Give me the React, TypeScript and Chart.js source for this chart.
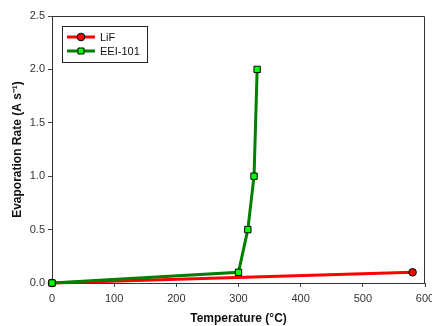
import React, { useEffect, useRef } from "react";
import { Chart, registerables } from "chart.js";
Chart.register(...registerables);

const lifTemp = [0, 580];
const lifRate = [0, 0.1];
const eeiTemp = [0, 300, 315, 325, 330];
const eeiRate = [0, 0.1, 0.5, 1.0, 2.0];
const seriesNames = ["LiF", "EEI-101"];
const xTitle = "Temperature (°C)";
const yTitle = "Evaporation Rate (A s⁻¹)";

const FONT = "'Liberation Sans', Arial, sans-serif";

const boxPlugin = {
  id: "boxAndLegend",
  afterDatasetsDraw(chart: any) {
    const { ctx, chartArea } = chart;
    ctx.save();
    ctx.strokeStyle = "#333";
    ctx.lineWidth = 1;
    ctx.beginPath();
    ctx.moveTo(chartArea.left, chartArea.top + 0.5);
    ctx.lineTo(chartArea.right - 0.5, chartArea.top + 0.5);
    ctx.lineTo(chartArea.right - 0.5, chartArea.bottom);
    ctx.stroke();

    // legend box
    const lx = chartArea.left + 10;
    const ly = chartArea.top + 10;
    const lw = 85;
    const lh = 36;
    ctx.fillStyle = "#fff";
    ctx.fillRect(lx, ly, lw, lh);
    ctx.strokeStyle = "#222";
    ctx.lineWidth = 1;
    ctx.strokeRect(lx + 0.5, ly + 0.5, lw, lh);
    const rows = [
      { y: ly + 11, color: "#ff0000", fill: "#ff0000", style: "circle" },
      { y: ly + 25, color: "#007f00", fill: "#00ff00", style: "rect" },
    ];
    rows.forEach((r, i) => {
      ctx.strokeStyle = r.color;
      ctx.lineWidth = 3;
      ctx.beginPath();
      ctx.moveTo(lx + 5, r.y);
      ctx.lineTo(lx + 33, r.y);
      ctx.stroke();
      ctx.fillStyle = r.fill;
      ctx.strokeStyle = "#000";
      ctx.lineWidth = 1;
      ctx.beginPath();
      if (r.style === "circle") {
        ctx.arc(lx + 19, r.y, 3.8, 0, Math.PI * 2);
      } else {
        ctx.rect(lx + 16, r.y - 3, 6, 6);
      }
      ctx.fill();
      ctx.stroke();
      ctx.fillStyle = "#111";
      ctx.font = `11px ${FONT}`;
      ctx.textBaseline = "middle";
      ctx.textAlign = "left";
      ctx.fillText(seriesNames[i], lx + 38, r.y + 0.5);
    });
    ctx.restore();
  },
};

export default function App() {
  const ref = useRef<HTMLCanvasElement>(null);
  useEffect(() => {
    const chart = new Chart(ref.current!, {
      type: "scatter",
      data: {
        datasets: [
          {
            label: seriesNames[0],
            data: lifTemp.map((x, i) => ({ x, y: lifRate[i] })),
            showLine: true,
            clip: false,
            borderColor: "#ff0000",
            backgroundColor: "#ff0000",
            borderWidth: 3,
            pointStyle: "circle",
            pointRadius: 3.8,
            pointBorderColor: "#000",
            pointBorderWidth: 1,
            pointBackgroundColor: "#ff0000",
            order: 1,
          },
          {
            label: seriesNames[1],
            data: eeiTemp.map((x, i) => ({ x, y: eeiRate[i] })),
            showLine: true,
            clip: false,
            borderColor: "#007f00",
            backgroundColor: "#00ff00",
            borderWidth: 3,
            pointStyle: "rect",
            pointRadius: 4.5,
            pointBorderColor: "#000",
            pointBorderWidth: 1,
            pointBackgroundColor: "#00ff00",
            order: 0,
          },
        ],
      },
      options: {
        animation: false,
        responsive: false,
        layout: { padding: { top: 16, right: 7, left: 0, bottom: 0 } },
        plugins: { legend: { display: false }, tooltip: { enabled: false } },
        scales: {
          x: {
            type: "linear",
            min: 0,
            max: 600,
            ticks: {
              stepSize: 100,
              color: "#333",
              font: { family: FONT, size: 11 },
              padding: 5,
            },
            grid: {
              drawOnChartArea: false,
              tickLength: 4,
              color: "#444",
            },
            border: { color: "#333", width: 1 },
            title: {
              display: true,
              text: xTitle,
              color: "#111",
              font: { family: FONT, size: 12, weight: "bold" },
              padding: { top: 4, bottom: 0 },
            },
            afterFit: (s: any) => {
              s.height = 43;
              s.paddingRight = 0;
              s.paddingLeft = 0;
            },
          },
          y: {
            type: "linear",
            min: 0,
            max: 2.5,
            ticks: {
              stepSize: 0.5,
              color: "#333",
              font: { family: FONT, size: 11 },
              padding: 3,
              callback: (v: any) => Number(v).toFixed(1),
            },
            grid: {
              drawOnChartArea: false,
              tickLength: 4,
              color: "#444",
            },
            border: { color: "#333", width: 1 },
            title: {
              display: true,
              text: yTitle,
              color: "#111",
              font: { family: FONT, size: 12, weight: "bold" },
              padding: { top: 10, bottom: 0 },
            },
            afterFit: (s: any) => {
              s.width = 52;
              s.paddingTop = 0;
              s.paddingBottom = 0;
            },
          },
        },
      },
      plugins: [boxPlugin],
    });
    return () => chart.destroy();
  }, []);
  return (
    <div style={{ position: "fixed", left: 0, top: 0, width: 432, height: 326, background: "#fff" }}>
      <canvas ref={ref} width={432} height={326} style={{ width: 432, height: 326 }} />
    </div>
  );
}
